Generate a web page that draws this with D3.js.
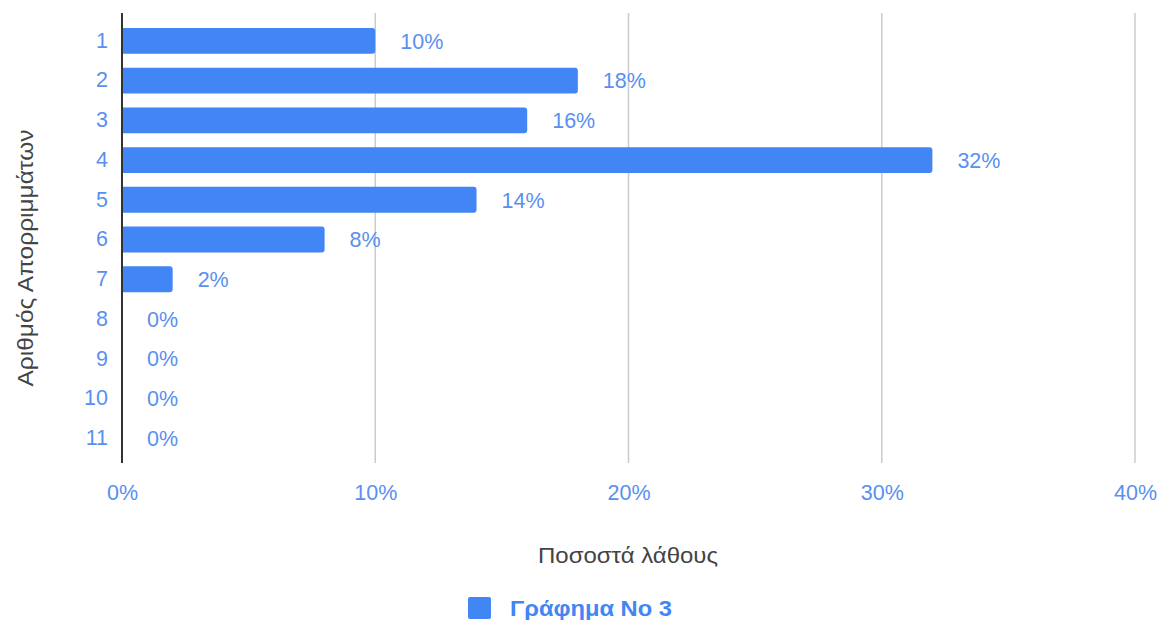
<!DOCTYPE html>
<html><head><meta charset="utf-8">
<script src="https://cdn.jsdelivr.net/npm/d3@7"></script>
<style>body{margin:0;background:#fff}svg{display:block;font-family:"Liberation Sans",Arial,sans-serif}</style>
</head><body><svg id="c" width="1165" height="620"></svg>
<script>
const categories = ["1","2","3","4","5","6","7","8","9","10","11"];
const values = [10,18,16,32,14,8,2,0,0,0,0];
const xTicks = [0,10,20,30,40];
const seriesName = "Γράφημα Νο 3";
const xTitle = "Ποσοστά λάθους";
const yTitle = "Αριθμός Απορριμμάτων";

const FONT = "'Liberation Sans',Arial,sans-serif";
const svg = d3.select("#c");
const blue = "#4285F4", labelBlue = "#5a8ff0";
const x = d3.scaleLinear().domain([0,40]).range([122,1135]);
const y = d3.scaleBand().domain(categories).range([21,458]).paddingInner(0.35).paddingOuter(0.175);

// grid
svg.append("g").selectAll("line").data(xTicks.filter(d=>d>0)).join("line")
  .attr("x1",d=>x(d)).attr("x2",d=>x(d)).attr("y1",13).attr("y2",463)
  .attr("stroke","#cccccc").attr("stroke-width",1.5);

// bars
svg.append("g").selectAll("path").data(categories).join("path")
  .attr("fill",blue)
  .attr("d",(c,i)=>{
    const v = values[i]; if(v<=0) return null;
    const x0=x(0), x1=x(v), y0=y(c), h=y.bandwidth(), r=3;
    return `M${x0},${y0}H${x1-r}Q${x1},${y0} ${x1},${y0+r}V${y0+h-r}Q${x1},${y0+h} ${x1-r},${y0+h}H${x0}Z`;
  });

// value labels
svg.append("g").selectAll("text").data(categories).join("text")
  .attr("x",(c,i)=>x(values[i])+25).attr("y",c=>y(c)+y.bandwidth()/2)
  .attr("dy","0.36em").attr("fill",labelBlue).attr("font-size",21.5)
  .text((c,i)=>values[i]+"%");

// zero axis
svg.append("line").attr("x1",x(0)).attr("x2",x(0)).attr("y1",13).attr("y2",463)
  .attr("stroke","#333").attr("stroke-width",2);

// y axis labels
const ya = svg.append("g").attr("transform",`translate(${x(0)-14},0)`)
  .call(d3.axisLeft(y).tickSize(0).tickPadding(0));
ya.select(".domain").remove();
ya.selectAll("text").attr("font-size",21.5).attr("fill",labelBlue).attr("font-family",FONT);

// x axis labels
const xa = svg.append("g").attr("transform","translate(0,492)")
  .call(d3.axisBottom(x).tickValues(xTicks).tickFormat(d=>d+"%").tickSize(0).tickPadding(0));
xa.select(".domain").remove();
xa.selectAll("text").attr("font-size",21.5).attr("fill",labelBlue).attr("dy","0.36em").attr("font-family",FONT);

// titles
svg.append("text").attr("x",628).attr("y",555).attr("dy","0.36em").attr("text-anchor","middle")
  .attr("font-size",22.5).attr("fill","#444").attr("textLength",180).attr("lengthAdjust","spacingAndGlyphs").text(xTitle);
svg.append("text").attr("transform","translate(25,258) rotate(-90)").attr("dy","0.36em")
  .attr("text-anchor","middle").attr("font-size",22.5).attr("fill","#444")
  .attr("textLength",257).attr("lengthAdjust","spacingAndGlyphs").text(yTitle);

// legend
svg.append("rect").attr("x",468).attr("y",597).attr("width",23).attr("height",22).attr("rx",2).attr("fill",blue);
svg.append("text").attr("x",510).attr("y",608).attr("dy","0.36em").attr("font-size",22.5)
  .attr("font-weight","bold").attr("fill",blue).attr("textLength",162).attr("lengthAdjust","spacingAndGlyphs").text(seriesName);
</script></body></html>
